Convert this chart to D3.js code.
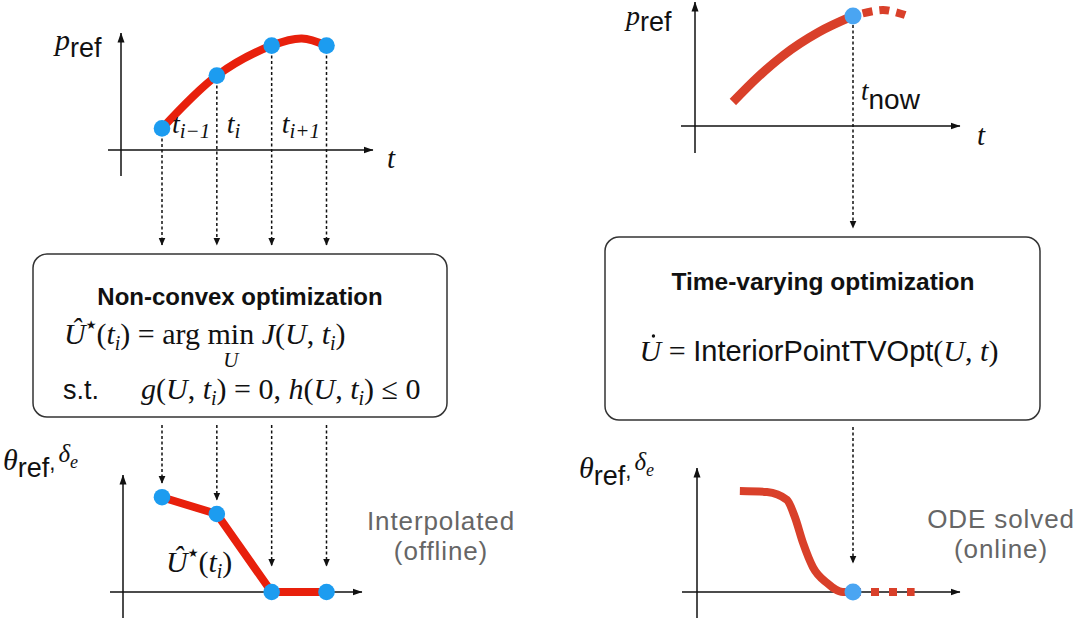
<!DOCTYPE html>
<html><head><meta charset="utf-8">
<script src="https://cdn.jsdelivr.net/npm/d3@7"></script>
<style>body{margin:0;background:#fff}</style>
</head><body>
<svg id="fig" width="1085" height="623"></svg>
<script>
// offline side: samples t_{i-1}, t_i, t_{i+1}, t_{i+2}
const sampleT = [1, 2, 3, 4];
const sampleSub = ["i\u22121", "i", "i+1"];
const prefAtSamples = [0.18, 0.62, 0.87, 0.87];
const prefCurveT = [1, 2, 3, 3.55, 4];
const prefCurveV = [0.18, 0.62, 0.87, 0.93, 0.87];
const uStarAtSamples = [0.79, 0.65, 0, 0];

// online side
const tNow = 5;
const prefPastT = [1.2, 2.0, 2.8, 3.9, 5.0];
const prefPastV = [0.2, 0.41, 0.59, 0.78, 0.917];
const prefFutureT = [5.0, 5.95, 6.65];
const prefFutureV = [0.917, 0.967, 0.925];
const uOdeT = [1.42, 2.28, 2.91, 3.16, 3.42, 3.73, 4.18, 4.68, 5.0];
const uOdeV = [0.842, 0.833, 0.767, 0.625, 0.408, 0.208, 0.075, 0, 0];
const uFutureT = [5.0, 6.95];
const uFutureV = [0, 0];

const SANS = "'Liberation Sans', Arial, Helvetica, sans-serif";
const SERIF = "'Liberation Serif', 'Times New Roman', serif";
const redL = "#e8200c", redR = "#d9402a", blueL = "#1c9cf0", blueR = "#4aa5f2";

const svg = d3.select('#fig');

const defs = svg.append('defs');
defs.append('marker').attr('id','ax')
	.attr('viewBox','0 0 10 8').attr('refX',9.5).attr('refY',4)
	.attr('markerWidth',10).attr('markerHeight',8)
	.attr('markerUnits','userSpaceOnUse').attr('orient','auto')
	.append('path').attr('d','M0,0.5 L10,4 L0,7.5 Z').attr('fill','#111');
defs.append('marker').attr('id','dot')
	.attr('viewBox','0 0 8 8').attr('refX',7.5).attr('refY',4)
	.attr('markerWidth',8).attr('markerHeight',8)
	.attr('markerUnits','userSpaceOnUse').attr('orient','auto')
	.append('path').attr('d','M0,0.5 L8,4 L0,7.5 Z').attr('fill','#111');

// scales
const xL = d3.scaleLinear().domain([1, 4]).range([162, 326.5]);
const yTL = d3.scaleLinear().domain([0, 1]).range([150, 30]);
const yBL = d3.scaleLinear().domain([0, 1]).range([592, 472]);
const xR = d3.scaleLinear().domain([0, 5]).range([695, 853]);
const yTR = d3.scaleLinear().domain([0, 1]).range([126, 6]);
const yBR = d3.scaleLinear().domain([0, 1]).range([592, 472]);

// text with mixed fonts, shifts in px (positive = down)
const rich = (x, y, parts, anchor) => {
	const t = svg.append('text').attr('x', x).attr('y', y)
		.attr('text-anchor', anchor || 'start').attr('fill', '#111');
	let shift = 0;
	parts.forEach(p => {
		const s = p.s || 0;
		const ts = t.append('tspan')
			.attr('dy', s - shift)
			.attr('font-family', p.m ? SERIF : (p.f || SANS))
			.attr('font-style', p.i ? 'italic' : 'normal')
			.attr('font-weight', p.b ? 'bold' : 'normal')
			.attr('font-size', p.z || 30)
			.text(p.t);
		if (p.dx) ts.attr('dx', p.dx);
		if (p.id) ts.attr('id', p.id);
		shift = s;
	});
	return t;
}

const axes = (ox, oy, x0, x1, yBot, yTop) => {
	svg.append('line').attr('x1', x0).attr('y1', oy).attr('x2', x1).attr('y2', oy)
		.attr('stroke', '#111').attr('stroke-width', 1.5).attr('marker-end', 'url(#ax)');
	svg.append('line').attr('x1', ox).attr('y1', yBot).attr('x2', ox).attr('y2', yTop)
		.attr('stroke', '#111').attr('stroke-width', 1.5).attr('marker-end', 'url(#ax)');
}

const dotted = (x, y1, y2) => {
	svg.append('line').attr('x1', x).attr('y1', y1).attr('x2', x).attr('y2', y2)
		.attr('stroke', '#111').attr('stroke-width', 1.5)
		.attr('stroke-dasharray', '3,2.5').attr('marker-end', 'url(#dot)');
}

const box = (x, y, w, h) => {
	svg.append('rect').attr('x', x).attr('y', y).attr('width', w).attr('height', h)
		.attr('rx', 14).attr('fill', 'none').attr('stroke', '#333').attr('stroke-width', 1.5);
}

const grey = (x, y, s) => {
	svg.append('text').attr('x', x).attr('y', y).attr('text-anchor', 'middle')
		.attr('font-family', SANS).attr('font-size', 26).attr('letter-spacing', 0.9)
		.attr('fill', '#666').text(s);
}

// ---------- offline (left) ----------
axes(121, 150, 108, 373, 176, 33);
axes(123, 592, 110, 362, 618, 475);

sampleT.forEach((t, i) => {
	dotted(xL(t), yTL(prefAtSamples[i]) + 10, 245);
	dotted(xL(t), 425, Math.min(yBL(uStarAtSamples[i]) - 14, 566));
});

svg.append('path')
	.attr('d', d3.line().curve(d3.curveCatmullRom)
		.x((d, i) => xL(prefCurveT[i])).y(d => yTL(d))(prefCurveV))
	.attr('fill', 'none').attr('stroke', redL).attr('stroke-width', 8);

svg.append('path')
	.attr('d', d3.line().x((d, i) => xL(sampleT[i])).y(d => yBL(d))(uStarAtSamples))
	.attr('fill', 'none').attr('stroke', redL).attr('stroke-width', 8).attr('stroke-linejoin', 'round');

svg.selectAll('.pt-top').data(prefAtSamples).enter().append('circle')
	.attr('class', 'pt-top')
	.attr('cx', (d, i) => xL(sampleT[i])).attr('cy', d => yTL(d))
	.attr('r', 8.3).attr('fill', blueL);
svg.selectAll('.pt-bot').data(uStarAtSamples).enter().append('circle')
	.attr('class', 'pt-bot')
	.attr('cx', (d, i) => xL(sampleT[i])).attr('cy', d => yBL(d))
	.attr('r', 8.3).attr('fill', blueL);

sampleSub.forEach((s, i) => {
	rich(xL(sampleT[i]) + 10, 133, [
		{t: 't', m: 1, i: 1, z: 28},
		{t: s, m: 1, i: 1, z: 21, s: 5}
	]);
});

rich(55, 50, [{t: 'p', m: 1, i: 1, z: 30}, {t: 'ref', z: 27, s: 7}]);
rich(387, 168, [{t: 't', m: 1, i: 1, z: 29}]);

rich(3, 470, [{t: '\u03b8', m: 1, i: 1, z: 30}, {t: 'ref', z: 27, s: 7},
	{t: ',', z: 22, s: 0}, {t: '\u03b4', m: 1, i: 1, z: 25, s: -8, dx: 3}, {t: 'e', m: 1, i: 1, z: 18, s: -2}]);

rich(166, 572, [{t: '\u00db', m: 1, i: 1}, {t: '\u2605', f: "'DejaVu Sans'", z: 12, s: -15},
	{t: '(', m: 1}, {t: 't', m: 1, i: 1}, {t: 'i', m: 1, i: 1, z: 20, s: 6}, {t: ')', m: 1}]);

box(33, 254, 414, 163);
rich(240, 305, [{t: 'Non-convex optimization', b: 1, z: 24}], 'middle');
rich(64, 344, [{t: '\u00db', m: 1, i: 1}, {t: '\u2605', f: "'DejaVu Sans'", z: 12, s: -15},
	{t: '(', m: 1}, {t: 't', m: 1, i: 1}, {t: 'i', m: 1, i: 1, z: 20, s: 6}, {t: ') = arg ', m: 1},
	{t: 'min', m: 1, id: 'minop'}, {t: ' J', m: 1, i: 1}, {t: '(', m: 1}, {t: 'U', m: 1, i: 1},
	{t: ', ', m: 1}, {t: 't', m: 1, i: 1}, {t: 'i', m: 1, i: 1, z: 20, s: 6}, {t: ')', m: 1}]);
const minNode = document.getElementById('minop');
const minMid = (minNode.getStartPositionOfChar(0).x + minNode.getEndPositionOfChar(2).x) / 2;
rich(minMid, 367, [{t: 'U', m: 1, i: 1, z: 21}], 'middle');

rich(63, 399, [{t: 's.t.', z: 27}]);
rich(141, 399, [{t: 'g', m: 1, i: 1}, {t: '(', m: 1}, {t: 'U', m: 1, i: 1}, {t: ', ', m: 1},
	{t: 't', m: 1, i: 1}, {t: 'i', m: 1, i: 1, z: 20, s: 6}, {t: ') = 0, ', m: 1},
	{t: 'h', m: 1, i: 1}, {t: '(', m: 1}, {t: 'U', m: 1, i: 1}, {t: ', ', m: 1},
	{t: 't', m: 1, i: 1}, {t: 'i', m: 1, i: 1, z: 20, s: 6}, {t: ') \u2264 0', m: 1}]);

grey(441, 530, 'Interpolated');
grey(441, 560, '(offline)');

// ---------- online (right) ----------
axes(695, 126, 681, 960, 153, 2);
axes(697, 592, 682, 960, 618, 468);

dotted(xR(tNow), yTR(prefPastV[prefPastV.length - 1]) + 9, 228);
dotted(xR(tNow), 427, 563);

svg.append('path')
	.attr('d', d3.line().curve(d3.curveMonotoneX)
		.x((d, i) => xR(prefPastT[i])).y(d => yTR(d))(prefPastV))
	.attr('fill', 'none').attr('stroke', redR).attr('stroke-width', 9);
svg.append('path')
	.attr('d', d3.line().curve(d3.curveCatmullRom)
		.x((d, i) => xR(prefFutureT[i])).y(d => yTR(d))(prefFutureV))
	.attr('fill', 'none').attr('stroke', redR).attr('stroke-width', 8)
	.attr('stroke-dasharray', '0,10,10,7,10,7,10,20');

svg.append('path')
	.attr('d', d3.line().curve(d3.curveMonotoneX)
		.x((d, i) => xR(uOdeT[i])).y(d => yBR(d))(uOdeV))
	.attr('fill', 'none').attr('stroke', redR).attr('stroke-width', 8);
svg.append('path')
	.attr('d', d3.line().x((d, i) => xR(uFutureT[i])).y(d => yBR(d))(uFutureV))
	.attr('fill', 'none').attr('stroke', redR).attr('stroke-width', 8)
	.attr('stroke-dasharray', '8,10');

svg.append('circle').attr('cx', xR(tNow)).attr('cy', yTR(prefPastV[prefPastV.length - 1]))
	.attr('r', 8.5).attr('fill', blueR);
svg.append('circle').attr('cx', xR(tNow)).attr('cy', yBR(uOdeV[uOdeV.length - 1]))
	.attr('r', 8.5).attr('fill', blueR);

rich(626, 25, [{t: 'p', m: 1, i: 1, z: 28}, {t: 'ref', z: 27, s: 6}]);
rich(977, 145, [{t: 't', m: 1, i: 1, z: 29}]);
rich(861, 100, [{t: 't', m: 1, i: 1, z: 27}, {t: 'now', z: 28, s: 9}]);

rich(579, 478, [{t: '\u03b8', m: 1, i: 1, z: 30}, {t: 'ref', z: 27, s: 7},
	{t: ',', z: 22, s: 0}, {t: '\u03b4', m: 1, i: 1, z: 25, s: -8, dx: 3}, {t: 'e', m: 1, i: 1, z: 18, s: -2}]);

box(605, 237, 435, 183);
rich(823, 290, [{t: 'Time-varying optimization', b: 1, z: 24.5}], 'middle');
rich(819, 361, [{t: 'U', m: 1, i: 1, id: 'udot'}, {t: ' = ', m: 1}, {t: 'InteriorPointTVOpt', z: 29},
	{t: '(', m: 1}, {t: 'U', m: 1, i: 1}, {t: ', ', m: 1}, {t: 't', m: 1, i: 1}, {t: ')', m: 1}], 'middle');
const uNode = document.getElementById('udot');
const uMid = (uNode.getStartPositionOfChar(0).x + uNode.getEndPositionOfChar(0).x) / 2;
svg.append('circle').attr('cx', uMid + 3).attr('cy', 336).attr('r', 1.7).attr('fill', '#111');

grey(1001, 528, 'ODE solved');
grey(1001, 558, '(online)');
</script>
</body></html>
